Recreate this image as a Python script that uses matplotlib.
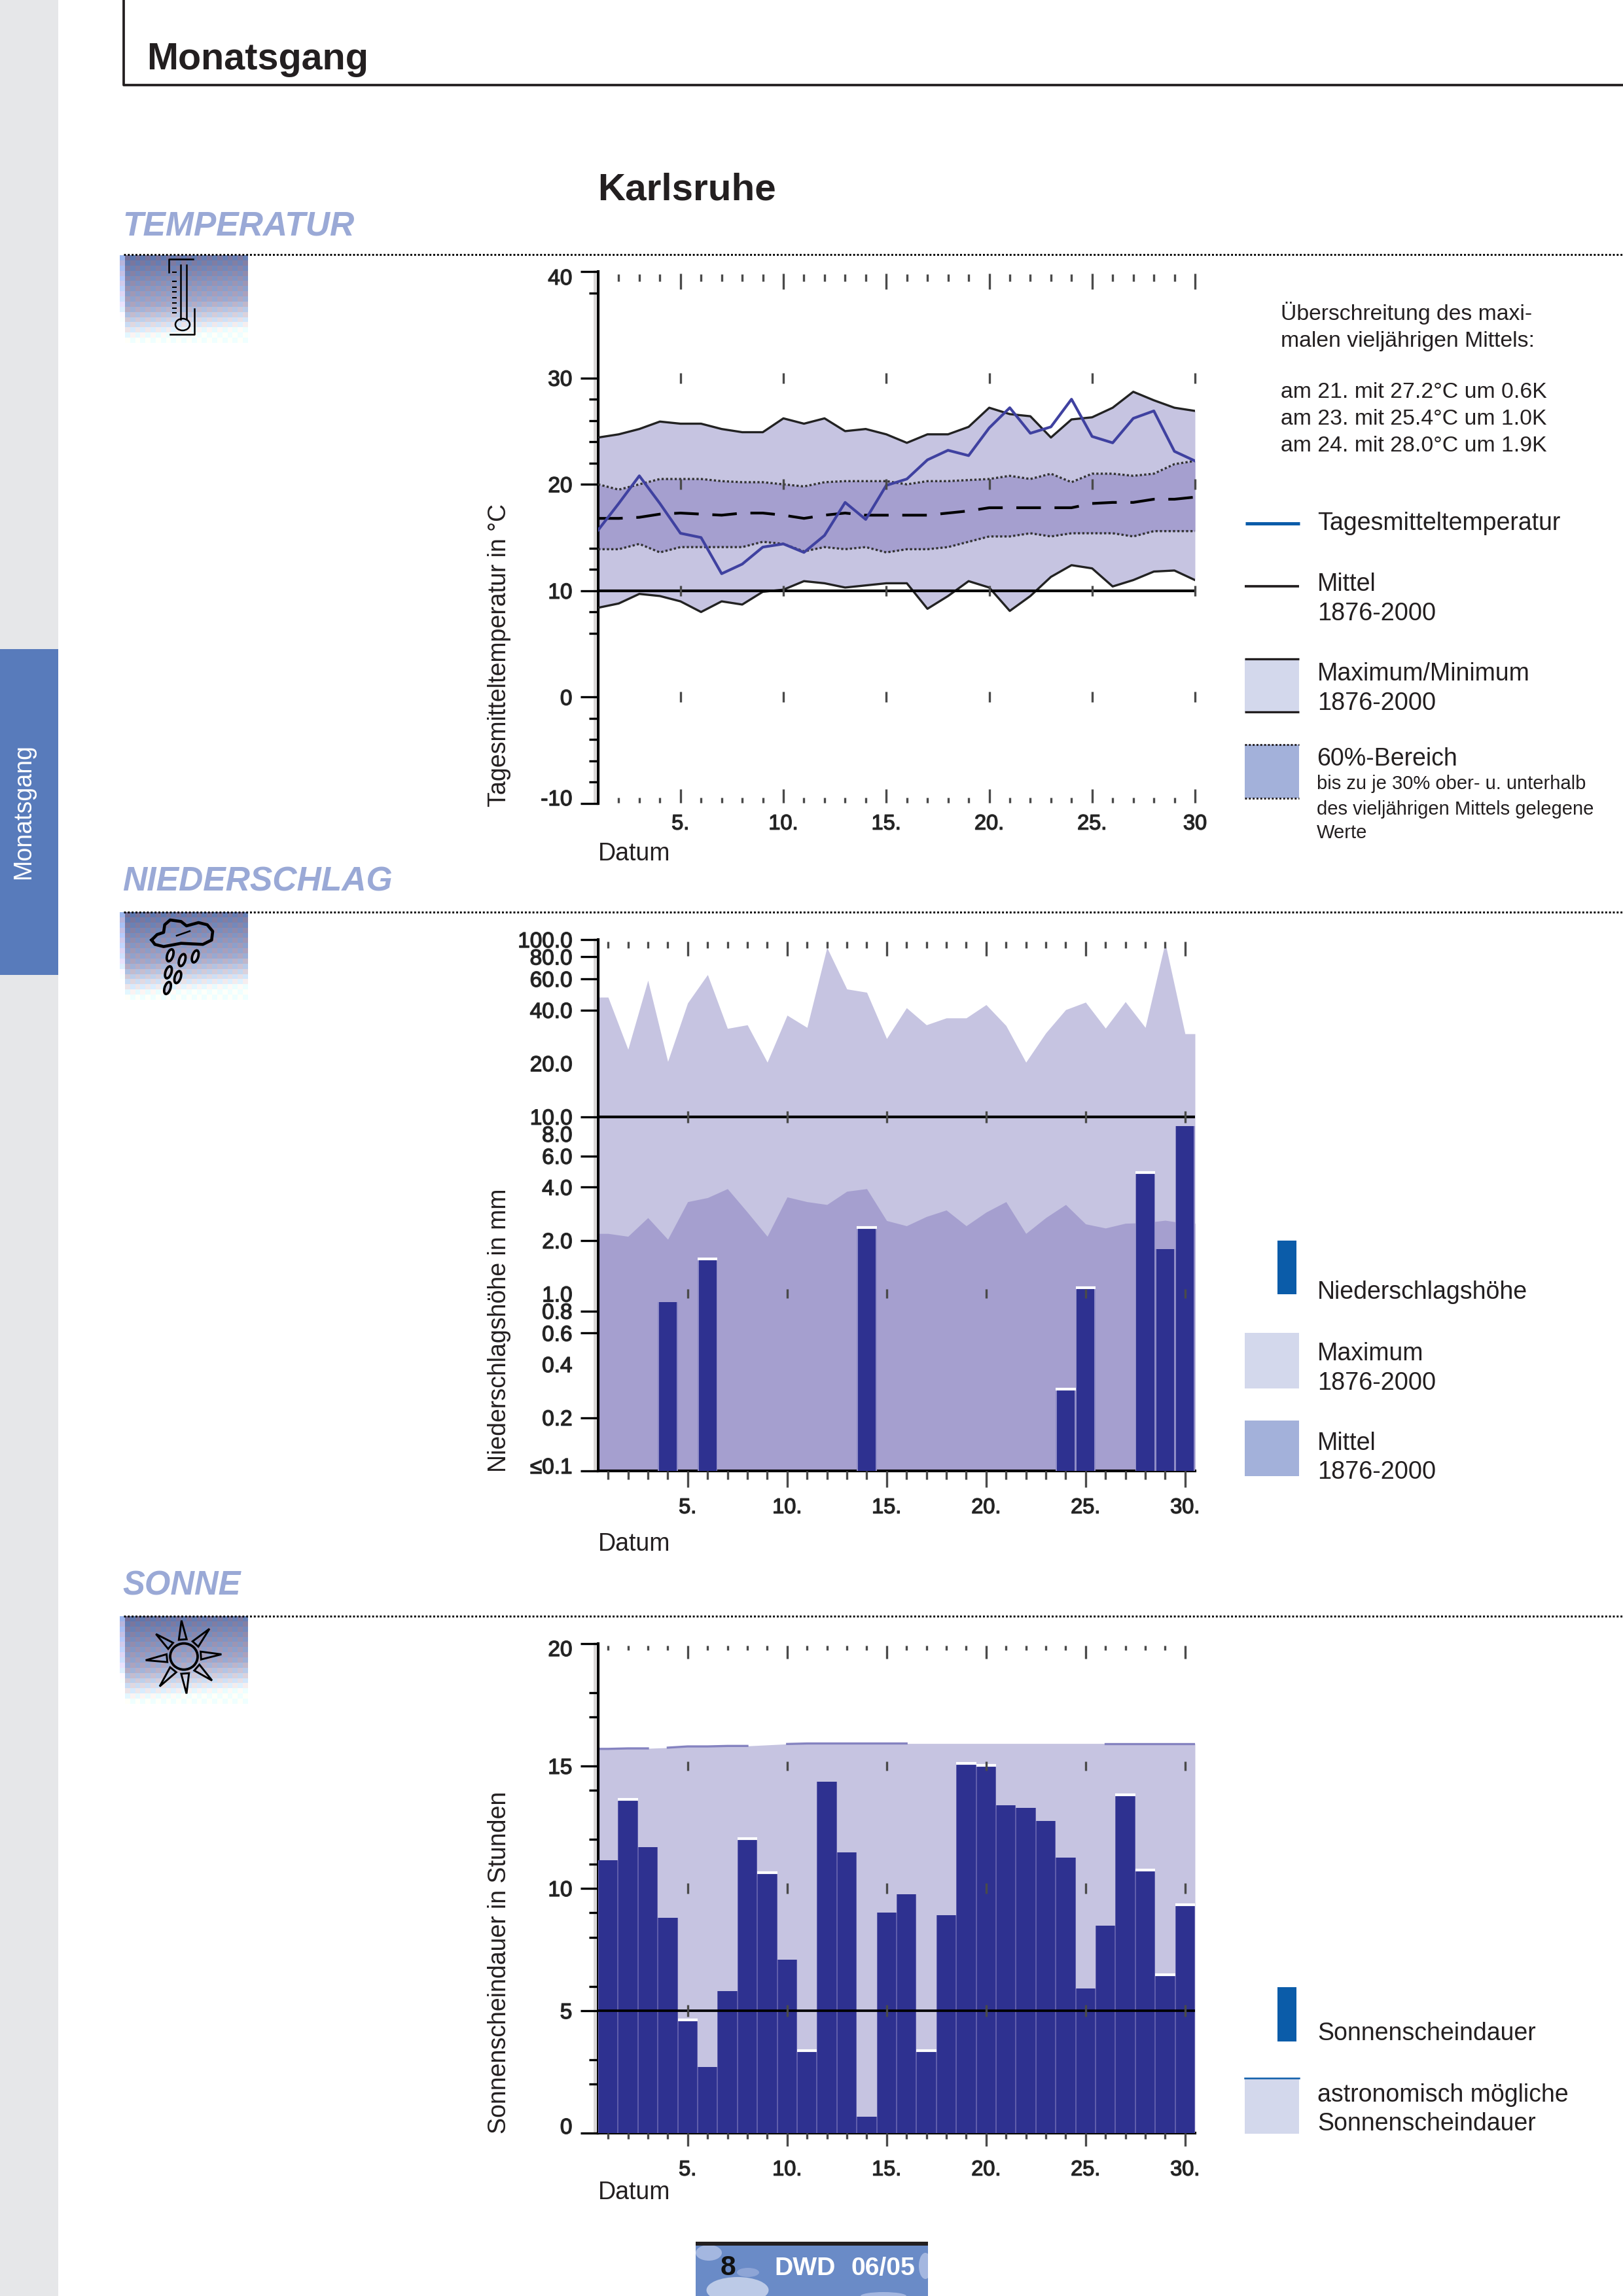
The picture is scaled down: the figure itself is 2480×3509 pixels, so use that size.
import numpy as np
import matplotlib
matplotlib.use('Agg')
import matplotlib.pyplot as plt
import matplotlib.patheffects as pe
from matplotlib.patches import Rectangle, Ellipse, Polygon
from matplotlib.transforms import ScaledTranslation

plt.rcParams['font.family'] = ['Liberation Sans', 'DejaVu Sans']

W, H = 2480, 3509
DPI = 300

days = np.arange(1, 31)
major_days = [5, 10, 15, 20, 25, 30]

# Temperatur
temp_day = [15.7, 18.2, 20.8, 18.2, 15.4, 15.0, 11.6, 12.5, 14.1, 14.4, 13.6, 15.2, 18.3, 16.7, 19.9,
            20.5, 22.3, 23.2, 22.7, 25.3, 27.2, 24.8, 25.4, 28.0, 24.5, 23.9, 26.2, 26.9, 23.1, 22.2]
temp_max = [24.4, 24.7, 25.2, 25.9, 25.7, 25.7, 25.2, 24.9, 24.9, 26.2, 25.7, 26.2, 25.0, 25.2, 24.7,
            23.9, 24.7, 24.7, 25.4, 27.2, 26.6, 26.4, 24.4, 26.1, 26.3, 27.2, 28.7, 27.9, 27.2, 26.9]
temp_p80 = [20.0, 19.5, 20.0, 20.5, 20.5, 20.5, 20.3, 20.2, 20.2, 20.0, 19.8, 20.2, 20.3, 20.3, 20.3,
            20.0, 20.3, 20.3, 20.4, 20.5, 20.8, 20.5, 21.0, 20.2, 21.0, 21.0, 20.8, 21.0, 21.9, 22.2]
temp_mean = [16.8, 16.8, 16.9, 17.2, 17.3, 17.2, 17.1, 17.3, 17.3, 17.1, 16.8, 17.1, 17.3, 17.1, 17.1,
             17.1, 17.1, 17.3, 17.5, 17.8, 17.8, 17.8, 17.8, 17.8, 18.2, 18.3, 18.3, 18.6, 18.6, 18.8]
temp_p20 = [13.9, 13.9, 14.4, 13.6, 14.1, 14.1, 14.1, 14.1, 14.6, 14.4, 13.7, 14.1, 13.9, 14.1, 13.6,
            13.9, 13.9, 14.1, 14.6, 15.1, 15.1, 15.4, 15.1, 15.4, 15.4, 15.4, 15.1, 15.6, 15.6, 15.6]
temp_min = [8.4, 8.8, 9.7, 9.5, 9.0, 8.0, 9.0, 8.7, 9.9, 10.1, 10.9, 10.7, 10.3, 10.5, 10.7,
            10.7, 8.3, 9.5, 10.9, 10.3, 8.1, 9.5, 11.3, 12.4, 12.1, 10.4, 11.0, 11.8, 11.9, 11.0]

# Niederschlag
rain_max = [47.3, 24.0, 58.9, 20.5, 43.9, 63.4, 31.5, 33.0, 20.3, 37.4, 31.9, 90.2, 52.6, 50.4, 27.6,
            41.2, 33.0, 36.1, 36.1, 42.9, 32.7, 20.3, 29.7, 40.2, 44.3, 31.6, 44.6, 31.9, 96.1, 29.4]
rain_mean = [2.19, 2.11, 2.69, 2.03, 3.31, 3.49, 3.92, 2.89, 2.11, 3.52, 3.31, 3.19, 3.79, 3.92, 2.59,
             2.42, 2.73, 2.97, 2.42, 2.89, 3.31, 2.19, 2.69, 3.19, 2.48, 2.35, 2.50, 2.52, 2.60, 2.50]
rain_days = [4, 6, 14, 24, 25, 28, 29, 30]
rain_vals = [0.90, 1.57, 2.36, 0.29, 1.08, 4.84, 1.79, 8.85]
rain_caps = [6, 14, 24, 25, 28]

# Sonne
sun_hours = [11.15, 13.63, 11.69, 8.80, 4.63, 2.71, 5.81, 12.02, 10.64, 7.09, 3.36, 14.36, 11.47, 0.67, 9.02,
             9.77, 3.36, 8.91, 15.12, 15.02, 13.40, 13.30, 12.76, 11.26, 5.92, 8.48, 13.83, 10.74, 6.46, 9.34]
sun_astro = [15.70, 15.72, 15.72, 15.75, 15.80, 15.80, 15.82, 15.82, 15.86, 15.90, 15.92, 15.92, 15.92, 15.92, 15.92,
             15.92, 15.92, 15.92, 15.92, 15.92, 15.92, 15.92, 15.92, 15.92, 15.92, 15.92, 15.92, 15.92, 15.92, 15.92]
sun_caps = [2, 5, 8, 9, 11, 17, 19, 20, 27, 28, 29, 30]

temp_ticks = [40, 30, 20, 10, 0, -10]
temp_minor = [38, 28, 26, 24, 22, 14, 12, 8, 6, -2, -4, -6, -8]
rain_ticks = [100, 80, 60, 40, 20, 10, 8, 6, 4, 2, 1, 0.8, 0.6, 0.4, 0.2, 0.1]
rain_labels = ['100.0', '80.0', '60.0', '40.0', '20.0', '10.0', '8.0', '6.0', '4.0', '2.0',
               '1.0', '0.8', '0.6', '0.4', '0.2', '≤0.1']
rain_nomark = [20, 8, 1, 0.4]
sun_ticks = [20, 15, 10, 5, 0]
sun_minor = [18, 17, 14, 12, 11, 9, 8, 6, 3, 2]

BAND = '#c6c4e1'
BAND_DARK = '#a59fcf'
BAR = '#2e3190'
BAR_EDGE = '#5f5dab'
LINE = '#3f41a0'
SWATCH = '#d3d8ec'
SWATCH_DARK = '#a3b1da'
LEG_BLUE = '#0b5ca9'
HEAD = '#9aa9d6'
TXT = '#231f20'

fig = plt.figure(figsize=(W / DPI, H / DPI), dpi=DPI)
page = fig.add_axes([0, 0, 1, 1])
page.set_xlim(0, W)
page.set_ylim(H, 0)
page.axis('off')


def T(x, y, s, size=8, **kw):
    kw.setdefault('color', TXT)
    kw.setdefault('va', 'baseline')
    page.text(x, y, s, fontsize=size, **kw)


def heavy(labels):
    # tick numbers in the scan are smeared and look heavier than the regular cut
    for lab in labels:
        lab.set_path_effects([pe.withStroke(linewidth=0.35, foreground='#333333')])


def panel(left, top, right, bottom):
    ax = fig.add_axes([left / W, 1 - bottom / H, (right - left) / W, (bottom - top) / H])
    ax.patch.set_alpha(0)
    ax.set_zorder(2)
    for s in ['top', 'right', 'bottom']:
        ax.spines[s].set_visible(False)
    ax.spines['left'].set_linewidth(1.0)
    ax.tick_params(axis='y', which='major', length=6.5, width=0.8, labelsize=8, pad=3, labelcolor='#222222')
    ax.tick_params(axis='y', which='minor', length=3.4, width=0.8)
    page.plot([left - 5, left - 5], [top, bottom], color='#d8d5d5', lw=0.9)
    return ax


def day_marks(ax, marks, y0, y1, color='#4a4a4a', lw=0.8):
    h = ax.get_window_extent().height
    ax.vlines(marks, y0 / h, y1 / h, transform=ax.get_xaxis_transform(), colors=color, lw=lw,
              clip_on=False, zorder=6)


def level_marks(ax, level, half, color='#4a4a4a'):
    y = ax.transAxes.inverted().transform(ax.transData.transform((10, level)))[1]
    h = ax.get_window_extent().height
    day_marks(ax, major_days, y * h - half, y * h + half, color=color)


def day_labels(ax, labels, offset):
    ax.set_xticks(major_days)
    ax.set_xticklabels(labels, fontsize=7.8, color='#222222')
    ax.tick_params(axis='x', which='major', length=0, pad=offset)
    heavy(ax.get_xticklabels())
    heavy(ax.get_yticklabels())


def shift_ends(ax, first_px, last_px):
    labels = ax.get_yticklabels()
    for lab, dy in ((labels[0], first_px), (labels[-1], last_px)):
        lab.set_transform(lab.get_transform() + ScaledTranslation(0, dy / DPI, fig.dpi_scale_trans))


def stretch(values):
    # the shaded areas run on flat out to the ends of the axis
    return np.r_[0.5, days, 30.5], np.r_[values[0], values, values[-1]]


# page furniture
page.add_patch(Rectangle((0, 0), 89, H, color='#e6e7e9', lw=0))
page.add_patch(Rectangle((0, 992), 89, 498, color='#587bbb', lw=0))
T(36, 1240, 'Monatsgang', size=9.0, color='white', rotation=90, ha='center', va='center')
page.plot([189, 189, W], [0, 130, 130], color=TXT, lw=0.9)
T(224, 106, 'Monatsgang', size=13.8, weight='bold')
T(913, 306, 'Karlsruhe', size=14, weight='bold')

for name, base, rule, size in (('TEMPERATUR', 359, 389, 12.4), ('NIEDERSCHLAG', 1361, 1394, 12.4),
                               ('SONNE', 2438, 2470, 12.2)):
    T(187, base, name, size=size, color=HEAD, weight='bold', style='italic')
    page.plot([189, W], [rule, rule], color='black', lw=0.7, ls=(0, (1, 1)))


def icon(top):
    # dithered fade used behind the three section icons
    rows, cols = 17, 25
    yy, xx = np.mgrid[0:rows, 0:cols]
    t = np.clip(yy / (rows - 1) + 0.12 * xx / cols, 0, 1)
    img = np.zeros((rows, cols, 3))
    stops = ((0.42, 0.66, 1.0), (0.44, 0.65, 1.0), (0.62, 0.77, 1.0))
    for c in range(3):
        img[..., c] = np.interp(t, [0, 0.6, 1], stops[c])
    check = (xx + yy) % 2 == 0
    img[check] += [-0.06, 0.02, 0.06]
    img[~check] += [0.03, 0.0, -0.02]
    img = np.clip(img, 0, 1)
    img[:, 0] = np.clip(img[:, 0] + 0.25, 0, 1)
    page.imshow(img, extent=(183, 378, top + 134, top), interpolation='nearest', aspect='auto', zorder=1)
    page.set_xlim(0, W)
    page.set_ylim(H, 0)


icon(390)
icon(1394)
icon(2470)

# thermometer
for xs, ys in (([258, 258, 295], [416, 396, 396]), ([297, 297, 260], [472, 511, 511]),
               ([276, 276], [405, 488]), ([285, 285], [405, 488])):
    page.plot(xs, ys, color='black', lw=0.6, zorder=3)
page.hlines([416, 430, 439, 446, 455, 463, 471, 478], 263, 270, color='black', lw=0.5, zorder=3)
page.add_patch(Ellipse((279, 496), 22, 18, fc='none', ec='black', lw=0.6, zorder=3))

# cloud with drops
cx = np.array([185, 210, 240, 245, 270, 320, 345, 400, 440, 465, 460, 420, 320, 240, 200, 185])
cy = np.array([170, 145, 135, 100, 78, 85, 105, 90, 100, 130, 170, 190, 185, 200, 190, 170])
page.plot(170 + cx / 3, 1380 + cy / 3, color='black', lw=1.1, zorder=3, solid_joinstyle='round')
page.plot([270, 290], [1430, 1423], color='black', lw=0.6, zorder=3)
for dx, dy in ((270, 240), (325, 262), (385, 245), (262, 318), (305, 340), (258, 390)):
    page.add_patch(Ellipse((170 + dx / 3, 1380 + dy / 3), 9, 19, angle=18, fc='#c9c9dc', ec='black', lw=0.9, zorder=3))

# sun
sx, sy = 170 + 333 / 3, 2460 + 215 / 3
page.add_patch(Ellipse((sx, sy), 42, 40, fc='none', ec='black', lw=0.9, zorder=3))
for tx, ty in ((322, 50), (450, 88), (505, 205), (462, 325), (345, 385), (222, 352), (158, 232), (205, 112)):
    tip = np.array([170 + tx / 3, 2460 + ty / 3])
    d = tip - [sx, sy]
    d = d / np.hypot(*d)
    n = np.array([-d[1], d[0]])
    base = np.array([sx, sy]) + d * 26
    page.add_patch(Polygon([base + n * 6, tip, base - n * 6], closed=True, fc='none', ec='black', lw=0.7, zorder=3))

# footer
page.add_patch(Rectangle((1063, 3426), 355, 83, color='#6a8bc7', lw=0, zorder=1))
clip = Rectangle((1063, 3432), 355, 77, transform=page.transData)
for ex, ey, ew, eh, col in ((1127, 3500, 95, 40, '#bccae7'), (1083, 3443, 40, 24, '#a4b7e0'),
                            (1143, 3473, 34, 14, '#8ea5d6'), (1414, 3463, 20, 40, '#a4b7e0'),
                            (1350, 3509, 70, 12, '#a4b7e0')):
    e = Ellipse((ex, ey), ew, eh, color=col, lw=0, zorder=1)
    page.add_patch(e)
    e.set_clip_path(clip)
page.add_patch(Rectangle((1063, 3426), 355, 6, color=TXT, lw=0, zorder=2))
T(1112, 3477, '8', size=10.2, weight='bold', color='#111111', ha='center', zorder=3)
T(1183, 3477, 'DWD', size=9.4, weight='bold', color='white', zorder=3)
T(1300, 3477, '06/05', size=9.4, weight='bold', color='white', zorder=3)

# Temperatur panel
ax1 = panel(914, 415, 1826, 1228)
ax1.set_xlim(1, 30)
ax1.set_ylim(-10, 40)
ax1.fill_between(days, temp_min, temp_max, color=BAND, lw=0, zorder=1)
ax1.fill_between(days, temp_p20, temp_p80, color=BAND_DARK, lw=0, zorder=2)
ax1.plot(days, temp_max, color='#222222', lw=0.8, zorder=3)
ax1.plot(days, temp_min, color='#222222', lw=0.8, zorder=3)
ax1.plot(days, temp_p80, color='#333333', lw=0.8, ls=(0, (1, 1)), zorder=3)
ax1.plot(days, temp_p20, color='#333333', lw=0.8, ls=(0, (1, 1)), zorder=3)
ax1.plot(days, temp_mean, color='black', lw=1.0, ls=(0, (9, 5)), zorder=3)
ax1.plot(days, temp_day, color=LINE, lw=1.0, zorder=4)
ax1.axhline(10, color='black', lw=1.0, zorder=5)
ax1.set_yticks(temp_ticks)
ax1.set_yticklabels([str(v) for v in temp_ticks])
ax1.set_yticks(temp_minor, minor=True)
shift_ends(ax1, -8, 9)
day_labels(ax1, ['5.', '10.', '15.', '20.', '25.', '30'], 4)
rest = [d for d in days if d not in major_days and d > 1]
day_marks(ax1, major_days, 813 - 27, 813 - 3)
day_marks(ax1, rest, 813 - 15, 813 - 4)
day_marks(ax1, major_days, 1, 22)
day_marks(ax1, rest, 1, 9)
for lv in (30, 20, 10, 0):
    level_marks(ax1, lv, 8)
T(763, 1233, 'Tagesmitteltemperatur in °C', size=9, rotation=90, ha='center', va='bottom')
T(914, 1315, 'Datum', size=9)

# Niederschlag panel
ax2 = panel(914, 1436, 1826, 2248)
ax2.set_yscale('log')
ax2.set_xlim(0.5, 30.5)
ax2.set_ylim(0.1, 100)
x, y = stretch(rain_max)
ax2.fill_between(x, 0.1, y, color=BAND, lw=0, zorder=1)
x, y = stretch(rain_mean)
ax2.fill_between(x, 0.1, y, color=BAND_DARK, lw=0, zorder=2)
rain_h = np.array(rain_vals) - 0.1
ax2.bar(rain_days, rain_h, bottom=0.1, width=1.0, color='#8f8cc6', lw=0, zorder=3)
ax2.bar(rain_days, rain_h, bottom=0.1, width=0.9, color=BAR, lw=0, zorder=4)
caps = [v for d, v in zip(rain_days, rain_vals) if d in rain_caps]
ax2.hlines(caps, np.array(rain_caps) - 0.5, np.array(rain_caps) + 0.5, color='white', lw=1.0, zorder=4)
ax2.axhline(10, color='black', lw=1.0, zorder=5)
ax2.spines['bottom'].set_visible(True)
ax2.spines['bottom'].set_linewidth(1.0)
ax2.set_yticks(rain_ticks)
ax2.set_yticklabels(rain_labels)
ax2.minorticks_off()
for tick, v in zip(ax2.yaxis.get_major_ticks(), rain_ticks):
    if v in rain_nomark:
        tick.tick1line.set_visible(False)
ticks2 = ax2.get_yticklabels()
ticks2[-1].set_transform(ticks2[-1].get_transform() + ScaledTranslation(0, 8 / DPI, fig.dpi_scale_trans))
day_labels(ax2, ['5.', '10.', '15.', '20.', '25.', '30.'], 10)
rest = [d for d in days if d not in major_days]
day_marks(ax2, major_days, 812 - 25, 812 - 3)
day_marks(ax2, rest, 812 - 13, 812 - 3)
day_marks(ax2, major_days, -25, 0)
day_marks(ax2, rest, -13, 0)
level_marks(ax2, 10, 9)
level_marks(ax2, 1, 7)
T(763, 2250, 'Niederschlagshöhe in mm', size=9, rotation=90, ha='center', va='bottom')
T(914, 2370, 'Datum', size=9)

# Sonne panel
ax3 = panel(914, 2512, 1826, 3260)
ax3.set_xlim(0.5, 30.5)
ax3.set_ylim(0, 20)
x, y = stretch(sun_astro)
ax3.fill_between(x, 0, y, color=BAND, lw=0, zorder=1)
for a, b in ((0, 4), (4, 9), (10, 17), (26, 32)):
    ax3.plot(x[a:b], y[a:b], color='#8583c0', lw=0.8, zorder=2)
ax3.bar(days, sun_hours, width=1.0, color=BAR_EDGE, lw=0, zorder=3)
ax3.bar(days, sun_hours, width=0.93, color=BAR, lw=0, zorder=4)
caps = [sun_hours[d - 1] for d in sun_caps]
ax3.hlines(caps, np.array(sun_caps) - 0.5, np.array(sun_caps) + 0.5, color='white', lw=1.0, zorder=4)
ax3.axhline(5, color='black', lw=0.9, zorder=5)
ax3.spines['bottom'].set_visible(True)
ax3.spines['bottom'].set_linewidth(1.0)
ax3.set_yticks(sun_ticks)
ax3.set_yticklabels([str(v) for v in sun_ticks])
ax3.set_yticks(sun_minor, minor=True)
shift_ends(ax3, -7, 11)
day_labels(ax3, ['5.', '10.', '15.', '20.', '25.', '30.'], 10)
day_marks(ax3, major_days, 748 - 23, 748 - 3)
day_marks(ax3, rest, 748 - 10, 748 - 3)
day_marks(ax3, major_days, -20, 0)
day_marks(ax3, rest, -9, 0)
for lv, half in ((15, 7), (10, 8), (5, 9)):
    level_marks(ax3, lv, half)
T(763, 3261, 'Sonnenscheindauer in Stunden', size=9, rotation=90, ha='center', va='bottom')
T(914, 3361, 'Datum', size=9)

# legend column, temperature
for y0, s in ((489, 'Überschreitung des maxi-'), (530, 'malen vieljährigen Mittels:'),
              (608, 'am 21. mit 27.2°C um 0.6K'), (649, 'am 23. mit 25.4°C um 1.0K'),
              (690, 'am 24. mit 28.0°C um 1.9K')):
    T(1957, y0, s, size=8.1)
page.plot([1903, 1986], [800, 800], color=LEG_BLUE, lw=1.2, solid_capstyle='butt')
T(2013, 810, 'Tagesmitteltemperatur', size=9)
page.plot([1902, 1985], [896, 896], color=TXT, lw=0.9, solid_capstyle='butt')
T(2013, 903, 'Mittel', size=9)
T(2013, 948, '1876-2000', size=9.1)
page.add_patch(Rectangle((1902, 1007), 83, 81, color=SWATCH, lw=0))
page.hlines([1007, 1088], 1902, 1985, color=TXT, lw=0.8)
T(2013, 1040, 'Maximum/Minimum', size=9)
T(2013, 1085, '1876-2000', size=9.1)
page.add_patch(Rectangle((1902, 1138), 83, 82, color=SWATCH_DARK, lw=0))
page.hlines([1138, 1220], 1902, 1985, color=TXT, lw=0.7, ls=(0, (1, 1)))
T(2012, 1170, '60%-Bereich', size=9)
for y0, s in ((1206, 'bis zu je 30% ober- u. unterhalb'), (1245, 'des vieljährigen Mittels gelegene'), (1281, 'Werte')):
    T(2012, y0, s, size=7.0)

# legend column, precipitation
page.add_patch(Rectangle((1952, 1896), 29, 82, color=LEG_BLUE, lw=0))
T(2013, 1985, 'Niederschlagshöhe', size=9)
page.add_patch(Rectangle((1902, 2037), 83, 85, color=SWATCH, lw=0))
T(2013, 2079, 'Maximum', size=9)
T(2013, 2124, '1876-2000', size=9.1)
page.add_patch(Rectangle((1902, 2171), 83, 85, color=SWATCH_DARK, lw=0))
T(2013, 2216, 'Mittel', size=9)
T(2013, 2260, '1876-2000', size=9.1)

# legend column, sunshine
page.add_patch(Rectangle((1952, 3037), 29, 83, color=LEG_BLUE, lw=0))
T(2013, 3118, 'Sonnenscheindauer', size=9)
page.add_patch(Rectangle((1902, 3176), 83, 85, color=SWATCH, lw=0))
page.plot([1902, 1985], [3176, 3176], color=LEG_BLUE, lw=0.6)
T(2013, 3212, 'astronomisch mögliche', size=9)
T(2013, 3256, 'Sonnenscheindauer', size=9)

fig.savefig('out.png', dpi=DPI)
